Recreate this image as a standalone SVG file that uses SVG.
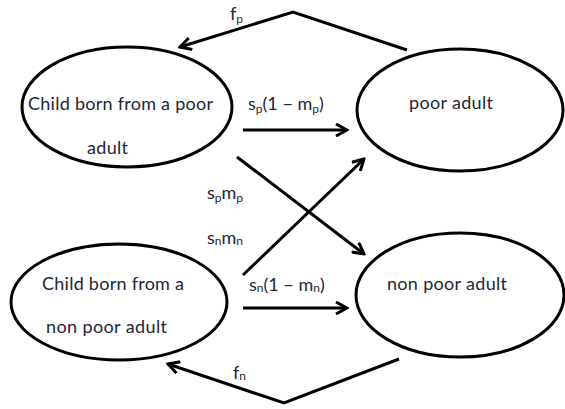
<svg xmlns="http://www.w3.org/2000/svg" width="565" height="409" viewBox="0 0 565 409">
<style>
.node ellipse{fill:#fff;stroke:#000;stroke-width:3}
text{font-family:Lato,"Open Sans","Liberation Sans",sans-serif;font-size:18px;fill:#1e2638}
.sub{font-size:12px}
.conn{fill:none;stroke:#000;stroke-width:3;marker-end:url(#arr)}
</style>
<defs>
<marker id="arr" markerUnits="userSpaceOnUse" viewBox="0 0 14 14" refX="12" refY="7" markerWidth="14" markerHeight="14" orient="auto">
<path d="M1,1 L12,7 L1,13" fill="none" stroke="#000" stroke-width="3"/>
</marker>
</defs>
<rect width="565" height="409" fill="#fff"/>
<g id="child-poor" class="node">
<ellipse cx="127" cy="107" rx="105" ry="60"/>
<text x="28" y="110" textLength="185">Child born from a poor</text>
<text x="87" y="154" textLength="41">adult</text>
</g>
<g id="poor-adult" class="node">
<ellipse cx="460" cy="110" rx="103" ry="61"/>
<text x="409" y="109" textLength="84">poor adult</text>
</g>
<g id="child-nonpoor" class="node">
<ellipse cx="119" cy="302" rx="108" ry="58"/>
<text x="42" y="290" textLength="142">Child born from a</text>
<text x="46" y="333" textLength="121">non poor adult</text>
</g>
<g id="nonpoor-adult" class="node">
<ellipse cx="460" cy="295" rx="104" ry="62"/>
<text x="387" y="290" textLength="120">non poor adult</text>
</g>
<g id="connectors">
<polyline class="conn" points="407,50 293,12 180,47"/>
<line class="conn" x1="243" y1="130" x2="347" y2="130"/>
<line class="conn" x1="237" y1="157" x2="364" y2="254"/>
<line class="conn" x1="243" y1="275" x2="364" y2="159"/>
<line class="conn" x1="243" y1="308" x2="347" y2="308"/>
<polyline class="conn" points="399,359 284,403 168,364"/>
<text x="230" y="20">f<tspan class="sub" dy="3">p</tspan></text>
<text x="248" y="110">s<tspan class="sub" dy="3">p</tspan><tspan dy="-3">(1 − m</tspan><tspan class="sub" dy="3">p</tspan><tspan dy="-3">)</tspan></text>
<text x="207" y="199">s<tspan class="sub" dy="3">p</tspan><tspan dy="-3">m</tspan><tspan class="sub" dy="3">p</tspan></text>
<text x="207" y="244">s<tspan class="sub" dy="1">n</tspan><tspan dy="-1">m</tspan><tspan class="sub" dy="1">n</tspan></text>
<text x="249" y="291">s<tspan class="sub" dy="1">n</tspan><tspan dy="-1">(1 − m</tspan><tspan class="sub" dy="1">n</tspan><tspan dy="-1">)</tspan></text>
<text x="233" y="379">f<tspan class="sub" dy="1">n</tspan></text>
</g>
</svg>
